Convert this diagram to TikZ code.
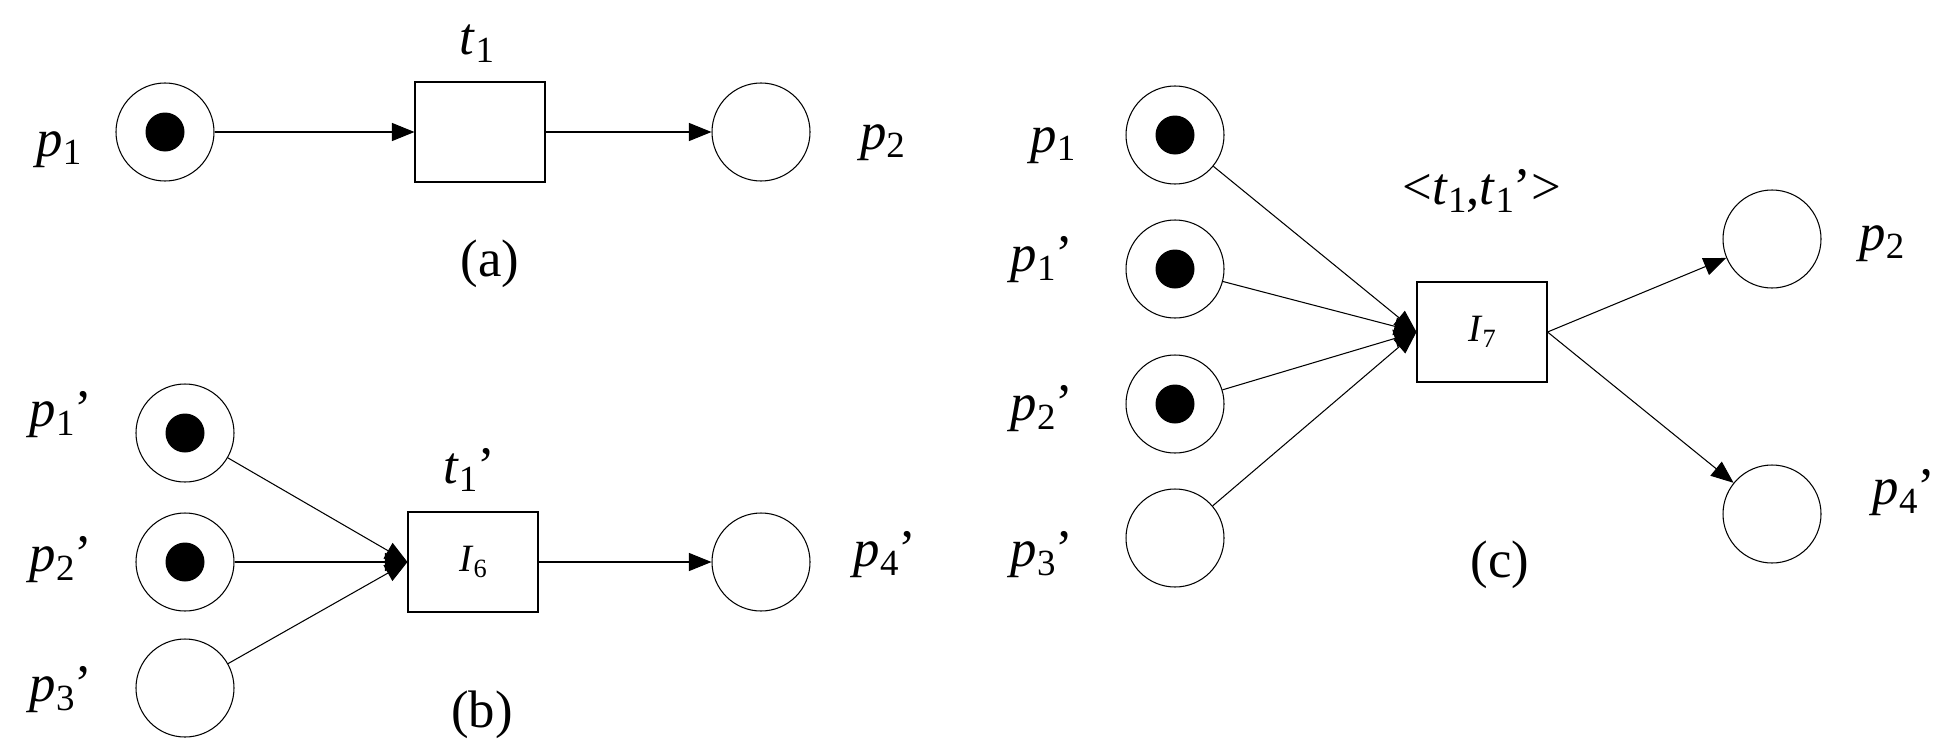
\documentclass[tikz,border=0pt]{standalone}
\usepackage{fontspec}
\setmainfont{Liberation Serif}
\usetikzlibrary{arrows.meta}
\newcommand{\lab}[3]{\textit{#1}{\fontsize{21}{21}\selectfont\raisebox{-0.22em}{#2}}#3}
\newcommand{\inn}[2]{\textit{#1}{\fontsize{15}{15}\selectfont\raisebox{-0.25em}{#2}}}

\begin{document}
\begin{tikzpicture}[x=1cm,y=1cm,
    place/.style={draw, circle, line width=0.6pt, minimum size=1.96cm, inner sep=0pt},
    marked/.style={place, path picture={\fill[black] (path picture bounding box.center) circle (0.39cm);}},
    trans/.style={draw, rectangle, line width=0.6pt, minimum width=2.6cm, minimum height=2cm, inner sep=0pt, font=\fontsize{22}{24}\selectfont},
    txt/.style={font=\fontsize{30}{32}\selectfont, inner sep=0pt},
    arc/.style={-{Triangle[length=0.45cm,width=0.36cm]}, line width=0.6pt}]
    \useasboundingbox (0,0) rectangle (39,-14.98);

    % (a)
    \node[marked] (Pa1) at (3.3,-2.64) {};
    \node[trans] (Ta1) at (9.6,-2.64) {};
    \node[place] (Pa2) at (15.22,-2.64) {};
    \node[txt] at (1.18,-3.0) {\lab{p}{1}{}};
    \node[txt] at (9.54,-0.88) {\lab{t}{1}{}};
    \node[txt] at (17.65,-2.86) {\lab{p}{2}{}};
    \node[txt] at (9.8,-5.28) {(a)};
    \draw[arc] (Pa1) -- (Ta1);
    \draw[arc] (Ta1) -- (Pa2);

    % (b)
    \node[marked] (Pb1) at (3.7,-8.66) {};
    \node[marked] (Pb2) at (3.7,-11.24) {};
    \node[place] (Pb3) at (3.7,-13.76) {};
    \node[trans] (Tb1) at (9.46,-11.24) {\inn{I}{6}};
    \node[place] (Pb4) at (15.22,-11.24) {};
    \node[txt] at (1.22,-8.3) {\lab{p}{1}{'}};
    \node[txt] at (1.22,-11.2) {\lab{p}{2}{'}};
    \node[txt] at (1.22,-13.8) {\lab{p}{3}{'}};
    \node[txt] at (9.38,-9.4) {\lab{t}{1}{'}};
    \node[txt] at (17.7,-11.1) {\lab{p}{4}{'}};
    \node[txt] at (9.64,-14.3) {(b)};
    \foreach \p in {Pb1,Pb2,Pb3} \draw[arc] (\p) -- (Tb1.west);
    \draw[arc] (Tb1) -- (Pb4);

    % (c)
    \node[marked] (Pc1) at (23.5,-2.7) {};
    \node[marked] (Pc2) at (23.5,-5.38) {};
    \node[marked] (Pc3) at (23.5,-8.08) {};
    \node[place] (Pc4) at (23.5,-10.76) {};
    \node[trans] (Tc1) at (29.64,-6.64) {\inn{I}{7}};
    \node[place] (Pc5) at (35.44,-4.78) {};
    \node[place] (Pc6) at (35.44,-10.28) {};
    \node[txt] at (21.06,-2.92) {\lab{p}{1}{}};
    \node[txt] at (20.84,-5.2) {\lab{p}{1}{'}};
    \node[txt] at (20.84,-8.18) {\lab{p}{2}{'}};
    \node[txt] at (20.84,-11.1) {\lab{p}{3}{'}};
    \node[txt] at (29.64,-3.82) {<\lab{t}{1}{},\lab{t}{1}{'}>};
    \node[txt] at (37.64,-4.88) {\lab{p}{2}{}};
    \node[txt] at (38.08,-9.86) {\lab{p}{4}{'}};
    \node[txt] at (30.0,-11.3) {(c)};
    \foreach \p in {Pc1,Pc2,Pc3,Pc4} \draw[arc] (\p) -- (Tc1.west);
    \draw[arc] (Tc1.east) -- (Pc5);
    \draw[arc] (Tc1.east) -- (Pc6);
\end{tikzpicture}
\end{document}
